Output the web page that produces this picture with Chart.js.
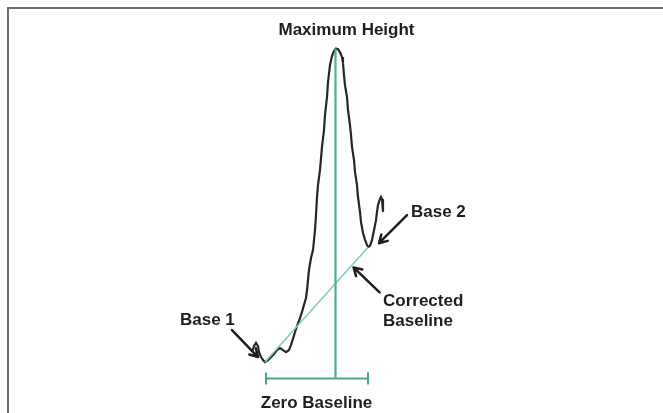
<!DOCTYPE html>
<html>
<head>
<meta charset="utf-8">
<script src="https://cdn.jsdelivr.net/npm/chart.js@4/dist/chart.umd.min.js"></script>
<style>
  html, body { margin: 0; padding: 0; background: #fff; }
  #wrap { width: 663px; height: 413px; }
</style>
</head>
<body>
<div id="wrap"><canvas id="c" width="663" height="413"></canvas></div>
<script>
// Detector trace (time, signal)
const time = [25.2, 25.4, 25.6, 25.8, 25.9, 26.1, 26.3, 26.5, 26.8, 27.1, 27.4, 27.7, 28.0, 28.3, 28.6, 28.9,
  29.1, 29.3, 29.5, 29.7, 30.0, 30.2, 30.4, 30.6, 30.7, 30.8, 30.9, 31.1, 31.3, 31.4, 31.5, 31.6,
  31.7, 31.8, 32.0, 32.1, 32.2, 32.4, 32.5, 32.7, 32.8, 33.0, 33.2, 33.4, 33.6, 33.8, 34.0, 34.2,
  34.3, 34.4, 34.5, 34.7, 34.8, 35.0, 35.1, 35.2, 35.4, 35.5, 35.7, 35.8, 36.0, 36.1, 36.3, 36.5,
  36.7, 36.8, 37.0, 37.2, 37.4, 37.6, 37.7, 37.8, 38.0, 38.1, 38.2, 38.3, 38.3];
const signal = [8.0, 9.8, 10.8, 9.8, 8.0, 6.5, 5.6, 5.0, 5.6, 6.5, 7.4, 8.6, 9.2, 8.6, 8.0, 8.6,
  10.2, 12.0, 14.1, 15.9, 18.3, 20.2, 22.3, 24.4, 26.8, 29.8, 32.9, 36.5, 38.9, 41.9, 44.9, 49.5,
  55.0, 58.6, 63.2, 66.8, 70.2, 75.3, 79.8, 85.3, 89.8, 95.0, 97.7, 99.2, 100.0, 99.8, 98.9, 97.4,
  95.6, 91.9, 88.9, 85.3, 81.4, 76.8, 73.8, 70.2, 66.2, 62.6, 58.6, 55.0, 50.5, 47.4, 44.1, 42.0,
  40.5, 39.8, 40.2, 42.0, 44.9, 48.0, 50.5, 52.6, 54.4, 55.0, 54.4, 52.9, 50.5];

// Peak integration points
const base1 = { x: 26.5, y: 5.0 };
const base2 = { x: 36.8, y: 39.8 };
const peakTime = 33.55;
const peakHeight = 100.0;

// Annotation texts
const labels = {
  max: 'Maximum Height',
  base1: 'Base 1',
  base2: 'Base 2',
  corrected: ['Corrected', 'Baseline'],
  zero: 'Zero Baseline'
};

const trace = time.map((t, i) => ({ x: t, y: signal[i] }));

const FONT = 'bold 17px "Liberation Sans", Arial, Helvetica, sans-serif';
const INK = '#1e1e1e';

function arrow(ctx, x1, y1, x2, y2) {
  const a = Math.atan2(y2 - y1, x2 - x1);
  const h = 9, s = Math.PI / 6;
  ctx.beginPath();
  ctx.moveTo(x1, y1);
  ctx.lineTo(x2, y2);
  ctx.moveTo(x2 - h * Math.cos(a - s), y2 - h * Math.sin(a - s));
  ctx.lineTo(x2, y2);
  ctx.lineTo(x2 - h * Math.cos(a + s), y2 - h * Math.sin(a + s));
  ctx.stroke();
}

const framePlugin = {
  id: 'frame',
  beforeDraw(chart) {
    const ctx = chart.ctx;
    ctx.save();
    ctx.fillStyle = '#fff';
    ctx.fillRect(0, 0, chart.width, chart.height);
    ctx.strokeStyle = '#6e6e6e';
    ctx.lineWidth = 2;
    ctx.beginPath();
    ctx.moveTo(chart.width, 8);
    ctx.lineTo(8, 8);
    ctx.lineTo(8, chart.height);
    ctx.stroke();
    ctx.restore();
  }
};

const notesPlugin = {
  id: 'notes',
  afterDatasetsDraw(chart) {
    const ctx = chart.ctx;
    const xs = chart.scales.x, ys = chart.scales.y;
    const b1x = xs.getPixelForValue(base1.x), b1y = ys.getPixelForValue(base1.y);
    const b2x = xs.getPixelForValue(base2.x), b2y = ys.getPixelForValue(base2.y);
    const px = xs.getPixelForValue(peakTime), py = ys.getPixelForValue(peakHeight);
    const zy = ys.getPixelForValue(0);

    ctx.save();
    ctx.fillStyle = INK;
    ctx.strokeStyle = INK;
    ctx.font = FONT;
    ctx.textBaseline = 'middle';

    ctx.textAlign = 'left';
    ctx.fillText(labels.max, px - 57, py - 18);
    ctx.fillText(labels.base2, b2x + 43, b2y - 35);
    ctx.fillText(labels.base1, b1x - 85, b1y - 42);
    ctx.fillText(labels.corrected[0], b2x + 15, b2y + 54);
    ctx.fillText(labels.corrected[1], b2x + 15, b2y + 74);
    ctx.textAlign = 'center';
    ctx.fillText(labels.zero, (b1x + b2x) / 2, zy + 25);

    ctx.lineWidth = 2.5;
    ctx.lineCap = 'round';
    ctx.lineJoin = 'round';
    arrow(ctx, b2x + 39, b2y - 32, b2x + 11, b2y - 4);
    arrow(ctx, b1x - 33, b1y - 32, b1x - 7, b1y - 5);
    const f = 0.85;
    const cx = b1x + (b2x - b1x) * f, cy = b1y + (b2y - b1y) * f;
    arrow(ctx, cx + 27, cy + 28, cx + 1, cy + 3);
    ctx.restore();
  }
};

new Chart(document.getElementById('c'), {
  type: 'scatter',
  data: {
    datasets: [
      {
        label: 'Peak maximum',
        data: [{ x: peakTime, y: 0 }, { x: peakTime, y: peakHeight }],
        showLine: true,
        borderColor: '#4fb08b',
        borderWidth: 2.2,
        pointRadius: 0,
        order: 1
      },
      {
        label: 'Corrected baseline',
        data: [base1, base2],
        showLine: true,
        borderColor: '#7fcdbd',
        borderWidth: 1.6,
        pointRadius: 0,
        order: 2
      },
      {
        label: 'Trace',
        data: trace,
        showLine: true,
        borderColor: '#262626',
        borderWidth: 2.2,
        pointRadius: 0,
        tension: 0,
        order: 3
      },
      {
        label: 'Zero baseline',
        data: [{ x: base1.x + 0.1, y: 0 }, { x: base2.x, y: 0 }],
        showLine: true,
        borderColor: '#4aa886',
        borderWidth: 2,
        pointStyle: 'line',
        pointRadius: 6,
        pointRotation: 90,
        pointBorderColor: '#4aa886',
        pointBorderWidth: 2,
        order: 4
      }
    ]
  },
  options: {
    responsive: false,
    devicePixelRatio: 1,
    animation: false,
    layout: { padding: 0, autoPadding: false },
    plugins: { legend: { display: false }, tooltip: { enabled: false } },
    scales: {
      x: { type: 'linear', min: 0, max: 66.3, display: false },
      y: { type: 'linear', min: -10.45, max: 114.7, display: false }
    }
  },
  plugins: [framePlugin, notesPlugin]
});
</script>
</body>
</html>
